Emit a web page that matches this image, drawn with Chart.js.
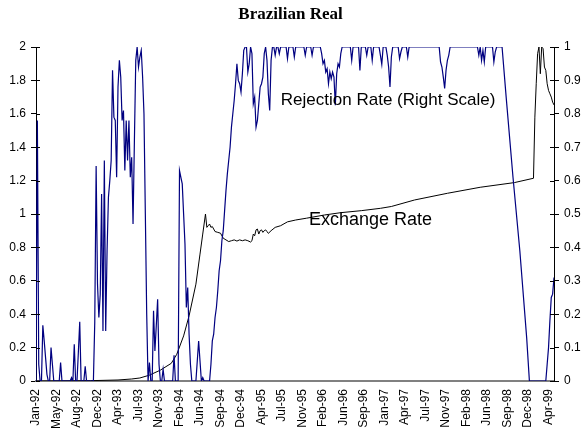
<!DOCTYPE html>
<html>
<head>
<meta charset="utf-8">
<script src="https://cdn.jsdelivr.net/npm/chart.js@4/dist/chart.umd.min.js"></script>
<style>
html,body{margin:0;padding:0;background:#fff;}
#wrap{width:581px;height:435px;position:relative;}
</style>
</head>
<body>
<div id="wrap"><canvas id="c" width="581" height="435"></canvas></div>
<script>
// ---- Data (weeks counted from first week of Jan-92) ----
const tickLabels = ['Jan-92','May-92','Aug-92','Dec-92','Apr-93','Jul-93','Nov-93','Feb-94','Jun-94','Sep-94','Dec-94','Apr-95','Jul-95','Nov-95','Feb-96','Jun-96','Sep-96','Jan-97','Apr-97','Jul-97','Nov-97','Feb-98','Jun-98','Sep-98','Dec-98','Apr-99'];
const weeksPerLabel = 15;
const lastWeek = 379;

const rejWeeks = [0,1,2,3,4,5,6,7,8,9,10,11,12,13,17,18,19,25,26,27,28,29,30,31,32,33,35,36,37,42,43,44,45,46,47,48,49,50,51,52,53,54,55,56,57,58,59,60,61,62,63,64,65,66,67,68,69,70,71,72,73,74,75,76,77,78,79,80,81,82,83,84,85,86,87,88,89,90,91,92,93,94,100,101,102,104,105,106,107,108,109,110,111,112,113,114,117,118,119,120,121,122,123,127,128,129,130,131,132,133,134,135,136,137,138,139,140,141,142,143,144,145,146,147,148,149,150,151,152,153,154,155,156,157,158,159,160,161,162,163,164,165,166,167,168,169,170,171,172,173,174,175,176,177,178,179,183,184,185,188,189,190,196,197,198,201,202,203,207,208,209,210,211,212,213,214,215,216,217,218,219,220,221,222,223,224,230,231,232,236,237,238,241,242,243,245,246,247,251,252,253,254,256,257,258,259,260,261,265,266,267,268,271,272,273,295,296,297,298,299,300,301,302,303,323,324,325,326,327,328,329,334,335,336,337,341,344,349,354,359,361,373,374,375,376,377,378,379];
const rejRate = [0,0.78,0.05,0,0,0.167,0.12,0.07,0.02,0,0,0.1,0.05,0,0,0.055,0,0,0.01,0,0.11,0,0,0.087,0.177,0,0,0.044,0,0,0.177,0.644,0.29,0.19,0.26,0.56,0.15,0.66,0.15,0.39,0.55,0.60,0.66,0.93,0.79,0.78,0.61,0.88,0.96,0.91,0.78,0.81,0.63,0.78,0.66,0.78,0.61,0.67,0.47,0.72,0.96,1.0,0.94,0.97,0.99,0.91,0.8,0.5,0.2,0,0.055,0,0,0.21,0.09,0.165,0.245,0.05,0,0,0.035,0,0,0.077,0,0,0.63,0.61,0.59,0.50,0.41,0.22,0.28,0.14,0.05,0,0,0.06,0.12,0.06,0,0.01,0,0,0.05,0.12,0.14,0.19,0.22,0.27,0.33,0.36,0.42,0.45,0.51,0.57,0.62,0.66,0.70,0.76,0.80,0.84,0.89,0.95,0.90,0.89,0.865,0.92,0.99,1.0,1.0,0.925,0.95,1.0,0.98,0.83,0.85,0.76,0.78,0.83,0.88,0.89,0.91,0.98,1.0,0.96,0.86,0.81,0.96,1.0,1.0,0.975,1.0,1.0,0.98,1.0,1.0,0.965,1.0,1.0,0.97,1.0,1.0,0.975,1.0,1.0,0.975,1.0,1.0,1.0,0.98,0.95,0.96,0.925,0.935,0.89,0.925,0.905,0.925,0.91,0.826,0.92,0.95,0.94,0.98,1.0,1.0,0.96,1.0,1.0,0.93,1.0,1.0,0.975,1.0,1.0,0.96,1.0,1.0,0.975,0.948,1.0,1.0,0.975,0.94,0.88,0.97,1.0,1.0,0.965,0.985,1.0,1.0,0.97,1.0,1.0,0.955,0.94,0.91,0.876,0.93,0.96,0.975,1.0,1.0,0.975,1.0,0.96,0.99,0.955,1.0,1.0,0.955,0.985,1.0,1.0,0.85,0.61,0.39,0.13,0,0,0.05,0.10,0.18,0.25,0.26,0.31];

const fxWeeks = [0,40,60,70,76,83,91,99,103,108,112,117,120,122,124,125,126,127,128,129,130,131,133,135,137,139,141,143,145,147,149,151,153,155,157,158,159,160,161,162,163,164,165,166,167,168,169,170,172,175,179,184,190,198,211,223,238,252,260,277,301,325,350,364,365,366,367,368,369,370,371,372,373,374,375,376,377,378,379];
const fxRate = [0.0,0.002,0.006,0.012,0.018,0.035,0.065,0.106,0.16,0.27,0.39,0.58,0.76,0.88,1.0,0.92,0.93,0.94,0.92,0.925,0.91,0.895,0.89,0.885,0.855,0.845,0.835,0.84,0.845,0.838,0.845,0.84,0.845,0.84,0.832,0.84,0.88,0.87,0.905,0.91,0.88,0.9,0.905,0.89,0.9,0.905,0.895,0.884,0.9,0.92,0.93,0.953,0.964,0.975,0.994,1.008,1.02,1.034,1.045,1.084,1.124,1.16,1.188,1.214,1.58,1.78,1.96,2.0,1.84,2.0,1.99,1.88,1.86,1.78,1.74,1.72,1.70,1.67,1.653];

const leftTicksMax = 2, leftStep = 0.2;
const rightTicksMax = 1, rightStep = 0.1;

// text labels anchored to data coordinates
const rejLabel = {text: 'Rejection Rate (Right Scale)', week: 257.6, value: 0.841};
const fxLabel = {text: 'Exchange Rate', week: 244.7, value: 0.961};

const SANS = '"Liberation Sans", Arial, sans-serif';
const SERIF = '"Liberation Serif", "Times New Roman", serif';

const toPts = (xs, ys) => xs.map((w, i) => ({x: w, y: ys[i]}));

const innerTicks = {
  id: 'innerTicks',
  afterDraw(chart) {
    const ctx = chart.ctx, a = chart.chartArea;
    ctx.save();
    ctx.strokeStyle = '#000';
    ctx.lineWidth = 1;
    const y = chart.scales.y, y1 = chart.scales.y1;
    y.ticks.forEach(t => {
      const p = Math.round(y.getPixelForValue(t.value)) + 0.5;
      ctx.beginPath(); ctx.moveTo(a.left, p); ctx.lineTo(a.left + 4, p); ctx.stroke();
    });
    y1.ticks.forEach(t => {
      const p = Math.round(y1.getPixelForValue(t.value)) + 0.5;
      ctx.beginPath(); ctx.moveTo(a.right - 4, p); ctx.lineTo(a.right, p); ctx.stroke();
    });
    ctx.restore();
  }
};

const seriesLabels = {
  id: 'seriesLabels',
  afterDatasetsDraw(chart) {
    const ctx = chart.ctx, sx = chart.scales.x;
    ctx.save();
    ctx.fillStyle = '#000';
    ctx.textAlign = 'center';
    ctx.textBaseline = 'middle';
    ctx.font = '17px ' + SANS;
    ctx.fillText(rejLabel.text, sx.getPixelForValue(rejLabel.week), chart.scales.y1.getPixelForValue(rejLabel.value));
    ctx.font = '18px ' + SANS;
    ctx.fillText(fxLabel.text, sx.getPixelForValue(fxLabel.week), chart.scales.y.getPixelForValue(fxLabel.value));
    ctx.restore();
  }
};

new Chart(document.getElementById('c'), {
  type: 'line',
  data: {
    datasets: [
      {
        label: 'Rejection Rate (Right Scale)',
        data: toPts(rejWeeks, rejRate),
        yAxisID: 'y1',
        borderColor: '#000080',
        borderWidth: 1.2,
        pointRadius: 0,
        tension: 0,
        fill: false
      },
      {
        label: 'Exchange Rate',
        data: toPts(fxWeeks, fxRate),
        yAxisID: 'y',
        borderColor: '#000000',
        borderWidth: 1,
        pointRadius: 0,
        tension: 0,
        fill: false
      }
    ]
  },
  options: {
    responsive: false,
    animation: false,
    events: [],
    layout: {padding: {left: 0, right: 0, top: 0, bottom: 0}},
    plugins: {
      legend: {display: false},
      tooltip: {enabled: false},
      title: {
        display: true,
        text: 'Brazilian Real',
        color: '#000',
        font: {family: SERIF, size: 17, weight: 'bold'},
        padding: {top: 4, bottom: 22.6}
      }
    },
    scales: {
      x: {
        type: 'linear',
        min: 0,
        max: lastWeek,
        afterBuildTicks(axis) {
          axis.ticks = tickLabels.map((_, i) => ({value: i * weeksPerLabel}));
        },
        afterFit(axis) { axis.height = 54; },
        ticks: {
          autoSkip: false,
          maxRotation: 90,
          minRotation: 90,
          padding: 8,
          color: '#000',
          font: {family: SANS, size: 12},
          callback: (v) => tickLabels[Math.round(v / weeksPerLabel)]
        },
        grid: {display: false, drawTicks: false},
        border: {display: true, color: '#808080', width: 2}
      },
      y: {
        position: 'left',
        min: 0,
        max: leftTicksMax,
        afterFit(axis) { axis.width = 36; },
        ticks: {
          stepSize: leftStep,
          padding: 5,
          color: '#000',
          font: {family: SANS, size: 12},
          callback: (v) => String(+v.toFixed(1))
        },
        grid: {display: true, drawOnChartArea: false, drawTicks: true, tickLength: 5, color: '#000'},
        border: {display: true, color: '#000', width: 1}
      },
      y1: {
        position: 'right',
        min: 0,
        max: rightTicksMax,
        afterFit(axis) { axis.width = 27; },
        ticks: {
          stepSize: rightStep,
          padding: 5,
          color: '#000',
          font: {family: SANS, size: 12},
          callback: (v) => String(+v.toFixed(1))
        },
        grid: {display: true, drawOnChartArea: false, drawTicks: true, tickLength: 5, color: '#000'},
        border: {display: true, color: '#000', width: 1}
      }
    }
  },
  plugins: [innerTicks, seriesLabels]
});
</script>
</body>
</html>
